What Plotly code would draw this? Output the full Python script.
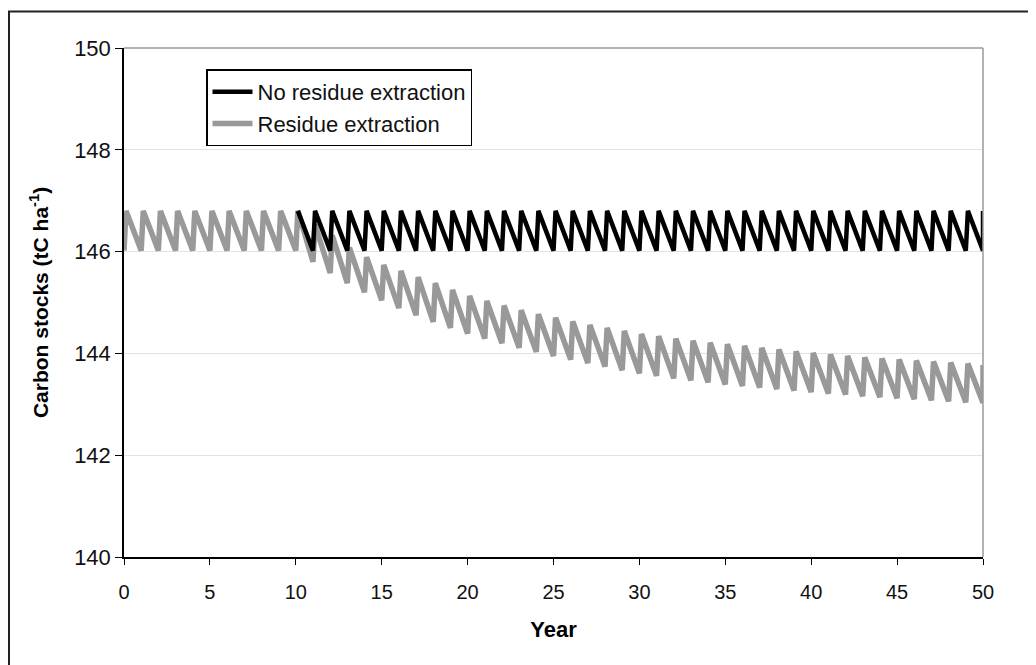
import plotly.graph_objects as go

# ---------------- data ----------------
years = list(range(0, 51))

# carbon stock just before the yearly residue input (troughs)
no_extraction_before = [
    146.02, 146.02, 146.02, 146.02, 146.02, 146.02, 146.02, 146.02, 146.02, 146.02,
    146.02, 146.02, 146.02, 146.02, 146.02, 146.02, 146.02, 146.02, 146.02, 146.02,
    146.02, 146.02, 146.02, 146.02, 146.02, 146.02, 146.02, 146.02, 146.02, 146.02,
    146.02, 146.02, 146.02, 146.02, 146.02, 146.02, 146.02, 146.02, 146.02, 146.02,
    146.02, 146.02, 146.02, 146.02, 146.02, 146.02, 146.02, 146.02, 146.02, 146.02,
    146.02,
]
# carbon stock just after the yearly residue input (peaks)
no_extraction_after = [
    146.80, 146.80, 146.80, 146.80, 146.80, 146.80, 146.80, 146.80, 146.80, 146.80,
    146.80, 146.80, 146.80, 146.80, 146.80, 146.80, 146.80, 146.80, 146.80, 146.80,
    146.80, 146.80, 146.80, 146.80, 146.80, 146.80, 146.80, 146.80, 146.80, 146.80,
    146.80, 146.80, 146.80, 146.80, 146.80, 146.80, 146.80, 146.80, 146.80, 146.80,
    146.80, 146.80, 146.80, 146.80, 146.80, 146.80, 146.80, 146.80, 146.80, 146.80,
    146.80,
]

extraction_before = [
    146.02, 146.02, 146.02, 146.02, 146.02, 146.02, 146.02, 146.02, 146.02, 146.02,
    146.02, 145.80, 145.58, 145.38, 145.20, 145.04, 144.89, 144.75, 144.62, 144.50,
    144.39, 144.29, 144.20, 144.11, 144.03, 143.95, 143.88, 143.81, 143.74, 143.67,
    143.61, 143.56, 143.51, 143.47, 143.43, 143.39, 143.36, 143.33, 143.30, 143.27,
    143.24, 143.21, 143.19, 143.16, 143.14, 143.12, 143.10, 143.08, 143.06, 143.04,
    143.03,
]
extraction_after = [
    146.80, 146.80, 146.80, 146.80, 146.80, 146.80, 146.80, 146.80, 146.80, 146.80,
    146.80, 146.53, 146.32, 146.08, 145.89, 145.74, 145.62, 145.50, 145.38, 145.25,
    145.13, 145.03, 144.94, 144.85, 144.77, 144.70, 144.63, 144.56, 144.50, 144.44,
    144.38, 144.34, 144.29, 144.25, 144.21, 144.18, 144.15, 144.11, 144.08, 144.04,
    144.01, 143.98, 143.95, 143.92, 143.90, 143.88, 143.86, 143.84, 143.82, 143.80,
    143.77,
]

x_ticks = [0, 5, 10, 15, 20, 25, 30, 35, 40, 45, 50]
y_ticks = [140, 142, 144, 146, 148, 150]

series_names = ["No residue extraction", "Residue extraction"]
x_title = "Year"
y_title = "Carbon stocks (tC ha<sup>-1</sup>)"

# ---------------- build sawtooth paths ----------------
RISE = 0.12  # input happens at start of each year


def sawtooth(yrs, before, after, start_year=0):
    xs, ys = [], []
    for yr, b, a in zip(yrs, before, after):
        if yr < start_year:
            continue
        if yr > start_year or start_year == 0:
            xs.append(yr)
            ys.append(b)
        xs.append(min(yr + RISE, yrs[-1]))
        ys.append(a)
    return xs, ys


gx, gy = sawtooth(years, extraction_before, extraction_after)
bx, by = sawtooth(years, no_extraction_before, no_extraction_after, start_year=10)

FONT = "Liberation Sans, Arial, sans-serif"

fig = go.Figure()
fig.add_trace(go.Scatter(
    x=gx, y=gy, mode="lines", name=series_names[1],
    line=dict(color="#999999", width=5.5),
    legendgroup="b", legendrank=2,
))
fig.add_trace(go.Scatter(
    x=bx, y=by, mode="lines", name=series_names[0],
    line=dict(color="#000000", width=4.5),
    legendgroup="a", legendrank=1,
))

L, R, T, B = 116, 61, 39.5, 116
PW = 1036 - L - R
PH = 665 - T - B

fig.update_layout(
    width=1036, height=665,
    margin=dict(l=L, r=R, t=T, b=B, autoexpand=False),
    paper_bgcolor="white", plot_bgcolor="white",
    font=dict(family=FONT, size=20, color="#111111"),
    showlegend=True,
    legend=dict(
        x=(198 - L) / PW, y=1 - (69 - 8 - T) / PH, xanchor="left", yanchor="top",
        bgcolor="white", bordercolor="#000000", borderwidth=1.5,
        font=dict(family=FONT, size=22, color="#111111"),
        traceorder="grouped", tracegroupgap=0, itemwidth=40,
    ),
    xaxis=dict(
        range=[0, 50], tickvals=x_ticks, ticks="outside", ticklen=6,
        tickcolor="#000000", showline=True, linecolor="#000000", linewidth=2,
        showgrid=False, zeroline=False, ticklabelstandoff=10,
        tickfont=dict(family=FONT, size=20, color="#111111"),
        title=dict(text="<b>" + x_title + "</b>", standoff=20,
                   font=dict(family=FONT, size=22, color="#000000")),
    ),
    yaxis=dict(
        range=[140, 150], tickvals=y_ticks, ticks="outside", ticklen=7,
        tickcolor="#000000", showline=True, linecolor="#000000", linewidth=1.5,
        showgrid=True, gridcolor="#e3e3e3", gridwidth=1, zeroline=False,
        tickfont=dict(family=FONT, size=22, color="#111111"),
        title=dict(text="<b>" + y_title + "</b>", standoff=20,
                   font=dict(family=FONT, size=21, color="#000000")),
    ),
    shapes=[
        # plot area top and right borders (gray)
        dict(type="line", xref="paper", yref="paper", x0=0, x1=1, y0=1, y1=1,
             line=dict(color="#9a9a9a", width=1.5)),
        dict(type="line", xref="paper", yref="paper", x0=1, x1=1, y0=0, y1=1,
             line=dict(color="#9a9a9a", width=1.5)),
        # outer frame of the figure
        dict(type="rect", xref="paper", yref="paper",
             x0=(1 - L) / PW, x1=(1045 - L) / PW,
             y0=-(700 - (665 - B)) / PH, y1=1 + (T - 3) / PH,
             line=dict(color="#222222", width=2), layer="below"),
    ],
)

fig.write_html("out.html")
